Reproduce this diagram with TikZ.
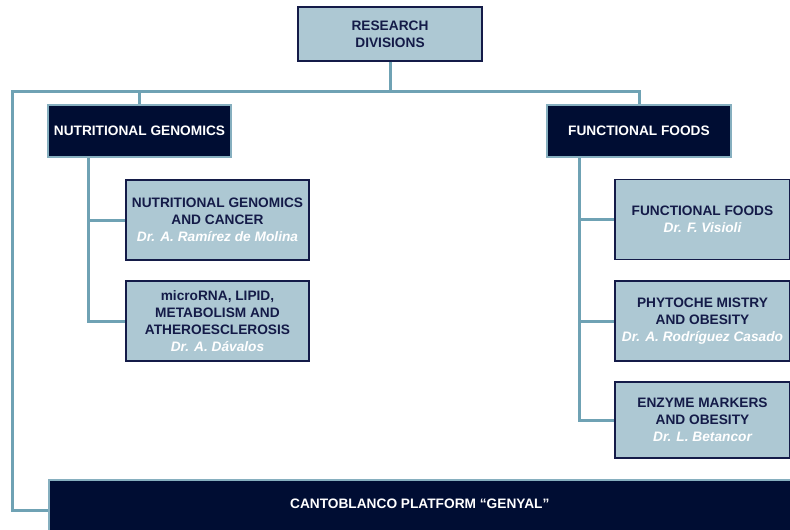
\documentclass[tikz,border=0pt]{standalone}
\usepackage{fontspec}
\setmainfont{Liberation Sans}
\usetikzlibrary{positioning,calc}
\definecolor{paleblue}{HTML}{ADC8D3}
\definecolor{inknavy}{HTML}{141B48}
\definecolor{deepnavy}{HTML}{000D33}
\definecolor{linkteal}{HTML}{6FA2B4}
\definecolor{rimteal}{HTML}{86AFBF}
\providecommand{\who}[1]{{\color{white}\itshape #1}}

\begin{document}
\begin{tikzpicture}[x=1pt,y=-1pt,
    lightbox/.style={draw=inknavy,line width=1.3pt,fill=paleblue,text=inknavy,
      align=center,inner sep=0pt,font=\fontsize{13.7}{17}\selectfont\bfseries},
    darkbox/.style={draw=rimteal,line width=1.5pt,fill=deepnavy,text=white,
      align=center,inner sep=0pt,font=\fontsize{13.7}{17}\selectfont\bfseries},
    subng/.style={lightbox,minimum width=183,minimum height=80},
    subff/.style={lightbox,minimum width=175,minimum height=80},
    link/.style={draw=linkteal,line width=3pt}]
    \path[use as bounding box,clip] (0,0) rectangle (790,530);
    \node[lightbox,minimum width=184,minimum height=54] (root) at (390,34) {RESEARCH\\DIVISIONS};
    \node[darkbox,minimum width=183,minimum height=52] (ng) at (139.5,131) {NUTRITIONAL GENOMICS};
    \node[darkbox,minimum width=184,minimum height=52] (ff) at (639,131) {FUNCTIONAL FOODS};
    \node[subng] (sng1) at (217.5,220) {NUTRITIONAL GENOMICS\\AND CANCER\\\who{Dr. A. Ramírez de Molina}};
    \node[subng] (sng2) at (217.5,321) {microRNA, LIPID,\\METABOLISM AND\\ATHEROESCLEROSIS\\\who{Dr. A. Dávalos}};
    \node[subff] (sff1) at (702.5,219.5) {FUNCTIONAL FOODS\\\who{Dr. F. Visioli}};
    \node[subff] (sff2) at (702.5,321) {PHYTOCHE MISTRY\\AND OBESITY\\\who{Dr. A. Rodríguez Casado}};
    \node[subff,minimum height=76] (sff3) at (702.5,420) {ENZYME MARKERS\\AND OBESITY\\\who{Dr. L. Betancor}};
    \node[darkbox,minimum width=742,minimum height=61,text height=10pt,text depth=14pt,
      anchor=north west] (plat) at (48,479) {CANTOBLANCO PLATFORM “GENYAL”};
    \coordinate (busL) at (12,91);
    \coordinate (ngtrunk) at ([xshift=41pt]ng.south west);
    \coordinate (fftrunk) at ([xshift=33pt]ff.south west);
    \draw[link] (root.south) -- (root.south |- busL);
    \draw[link] (plat.west) -| (busL) -| (ff.north);
    \draw[link] (ng.north |- busL) -- (ng.north);
    \draw[link] (ngtrunk) |- (sng1.west) (ngtrunk) |- (sng2.west);
    \draw[link] (fftrunk) |- (sff1.west) (fftrunk) |- (sff2.west) (fftrunk) |- (sff3.west);
\end{tikzpicture}
\end{document}
